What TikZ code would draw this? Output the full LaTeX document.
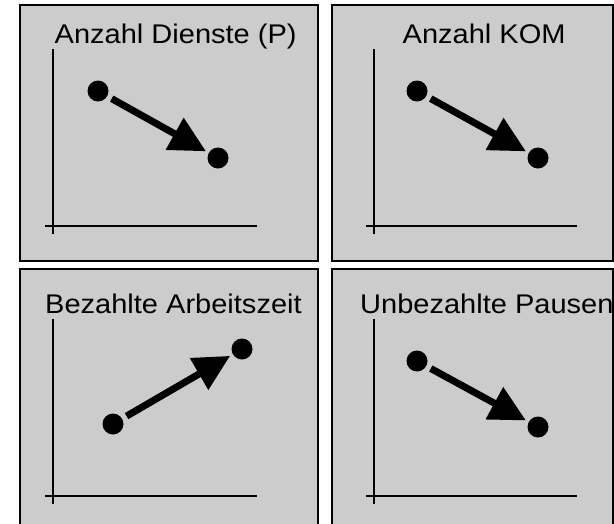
\documentclass[tikz,border=0pt]{standalone}
\usepackage{fontspec}
\setmainfont{Liberation Sans}
\usetikzlibrary{arrows.meta}
\definecolor{panelgray}{RGB}{204,204,204}
\begin{document}
\begin{tikzpicture}[x=1pt,y=-1pt,
  panel/.style={draw=black, line width=2pt, fill=panelgray},
  axisline/.style={draw=black, line width=1.6pt},
  dot/.style={circle, fill=black, inner sep=0pt, minimum size=21pt},
  trend/.style={line width=7pt, -{Triangle[length=36pt,width=35pt]}, shorten <=5pt, shorten >=3pt},
  title/.style={anchor=base west, inner sep=0pt, font=\fontsize{27}{31}\selectfont}]
\useasboundingbox (0,0) rectangle (614,523);
\clip (0,0) rectangle (614,523);
\fill[white] (0,0) rectangle (614,523);
% panels
\draw[panel] (19.5,5) rectangle (317.5,260.5);
\draw[panel] (331.5,5) rectangle (613.3,260.5);
\draw[panel] (19.5,269) rectangle (317.5,540);
\draw[panel] (331.5,269) rectangle (613.3,540);
% titles
\node[title] (t1) at (54.5,43) {\scalebox{1.075}[1]{Anzahl Dienste (P)}};
\node[title] (t2) at (402.5,43) {\scalebox{1.075}[1]{Anzahl KOM}};
\node[title] (t3) at (45,313) {\scalebox{1.075}[1]{Bezahlte Arbeitszeit}};
\node[title] (t4) at (360,313) {\scalebox{1.075}[1]{Unbezahlte Pausen}};
% axes
\draw[axisline] (53,49) -- (53,234);
\draw[axisline] (45,226) -- (257,226);
\draw[axisline] (374,49) -- (374,234);
\draw[axisline] (366,226) -- (577,226);
\draw[axisline] (53,319) -- (53,504);
\draw[axisline] (45,496) -- (257,496);
\draw[axisline] (374,319) -- (374,504);
\draw[axisline] (366,496) -- (577,496);
% dots
\node[dot] (a1) at (98,91) {};
\node[dot] (a2) at (218,158) {};
\node[dot] (b1) at (417,91) {};
\node[dot] (b2) at (538,158) {};
\node[dot] (c1) at (113,424) {};
\node[dot] (c2) at (242,349) {};
\node[dot] (d1) at (417,361) {};
\node[dot] (d2) at (538,427) {};
% arrows
\draw[trend] (a1) -- (a2);
\draw[trend] (b1) -- (b2);
\draw[trend] (c1) -- (c2);
\draw[trend] (d1) -- (d2);
\end{tikzpicture}
\end{document}
